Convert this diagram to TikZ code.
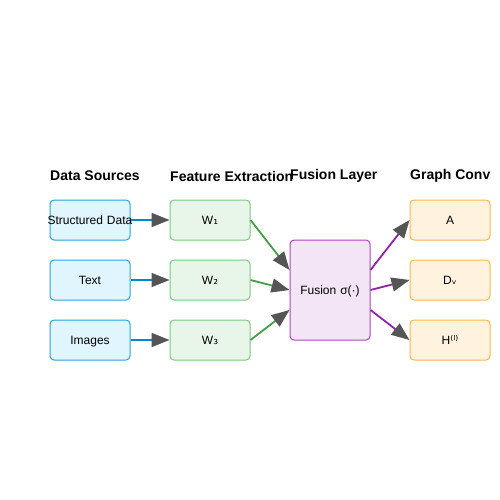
\documentclass[tikz,border=0pt]{standalone}
\usepackage{fontspec}
\setmainfont{Liberation Sans}
\newfontfamily\symfont{DejaVu Sans}
\usetikzlibrary{arrows.meta}
\definecolor{srcfill}{HTML}{E1F5FE}
\definecolor{srcdraw}{HTML}{29A3E0}
\definecolor{srcline}{HTML}{0288D1}
\definecolor{featfill}{HTML}{E8F5E9}
\definecolor{featdraw}{HTML}{81C784}
\definecolor{featline}{HTML}{43A047}
\definecolor{fusfill}{HTML}{F3E5F5}
\definecolor{fusdraw}{HTML}{AB47BC}
\definecolor{fusline}{HTML}{8E24AA}
\definecolor{gcfill}{HTML}{FFF3E0}
\definecolor{gcdraw}{HTML}{FFB74D}
\definecolor{headgray}{HTML}{555555}
\tikzset{
  box/.style={draw, rounded corners=4pt, line width=1pt, minimum width=80pt, minimum height=40pt, inner sep=0pt, text width=80pt, align=center, text height=10pt, text depth=1pt, font=\fontsize{12}{14}\selectfont},
  src/.style={box, fill=srcfill, draw=srcdraw},
  feat/.style={box, fill=featfill, draw=featdraw},
  fus/.style={box, fill=fusfill, draw=fusdraw, minimum height=100pt},
  gc/.style={box, fill=gcfill, draw=gcdraw},
  hdr/.style={anchor=west, inner sep=0pt, font=\fontsize{14}{16}\selectfont\bfseries},
  conn/.style={line width=1.8pt, -{Triangle[length=18pt,width=14pt,color=headgray]}},
}
\begin{document}
\begin{tikzpicture}[x=1pt,y=-1pt]
\useasboundingbox (0,0) rectangle (500,500);
\fill[white] (0,0) rectangle (500,500);
% headers
\node[hdr] (h1) at (50,176) {Data Sources};
\node[hdr] (h2) at (170,176) {Feature Extraction};
\node[hdr] (h3) at (290,176) {Fusion Layer};
\node[hdr] (h4) at (410,176) {Graph Conv};
% sources
\node[src] (s1) at (90,220) {\makebox[0pt][c]{Structured Data}};
\node[src] (s2) at (90,280) {Text};
\node[src] (s3) at (90,340) {Images};
% features
\node[feat] (f1) at (210,220) {W{\symfont ₁}};
\node[feat] (f2) at (210,280) {W{\symfont ₂}};
\node[feat] (f3) at (210,340) {W{\symfont ₃}};
% fusion
\node[fus] (fu) at (330,290) {Fusion σ(·)};
% graph conv
\node[gc] (g1) at (450,220) {A};
\node[gc] (g2) at (450,280) {D{\symfont ᵥ}};
\node[gc] (g3) at (450,340) {H{\symfont ⁽ˡ⁾}};
% connectors
\draw[conn, srcline] (s1.east) -- (f1.west);
\draw[conn, srcline] (s2.east) -- (f2.west);
\draw[conn, srcline] (s3.east) -- (f3.west);
\draw[conn, featline] (f1.east) -- ([yshift=20pt]fu.west);
\draw[conn, featline] (f2.east) -- (fu.west);
\draw[conn, featline] (f3.east) -- ([yshift=-20pt]fu.west);
\draw[conn, fusline] ([yshift=20pt]fu.east) -- (g1.west);
\draw[conn, fusline] (fu.east) -- (g2.west);
\draw[conn, fusline] ([yshift=-20pt]fu.east) -- (g3.west);
\end{tikzpicture}
\end{document}
